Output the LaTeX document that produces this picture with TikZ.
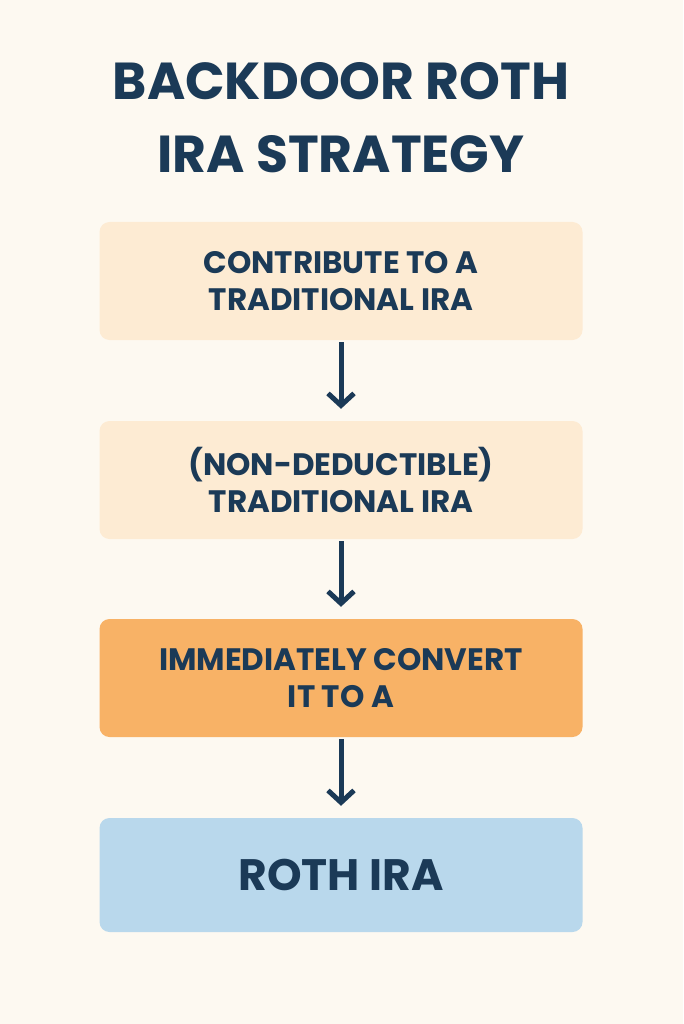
\documentclass[tikz,border=0pt]{standalone}
\usepackage{fontspec}
\setmainfont{Poppins}
\usetikzlibrary{arrows.meta}
\definecolor{bg}{HTML}{FDF9F1}
\definecolor{navy}{HTML}{1B3A57}
\definecolor{peach}{HTML}{FDEBD3}
\definecolor{orangeb}{HTML}{F8B266}
\definecolor{blueb}{HTML}{B9D8EC}
\begin{document}
\begin{tikzpicture}[x=1pt,y=1pt,
  box/.style={rounded corners=10pt,minimum width=483pt,minimum height=118pt,inner sep=0pt,font=\fontsize{31}{37}\selectfont\bfseries,text=navy,align=center},
  arr/.style={-{Straight Barb[length=12pt,width=26pt,line width=5pt]},line width=5pt,draw=navy}]
\fill[bg] (0,0) rectangle (683,-1024);
\node[font=\fontsize{52}{73}\selectfont\bfseries,text=navy,align=center] (title) at (341,-118) {BACKDOOR ROTH\\IRA STRATEGY};
\node[box,fill=peach] (b1) at (341,-281) {CONTRIBUTE TO A\\TRADITIONAL IRA};
\node[box,fill=peach] (b2) at (341,-480) {(NON-DEDUCTIBLE)\\TRADITIONAL IRA};
\node[box,fill=orangeb] (b3) at (341,-678) {IMMEDIATELY CONVERT\\IT TO A};
\node[box,fill=blueb,minimum height=114pt,font=\fontsize{44}{48}\selectfont\bfseries] (b4) at (341,-875) {ROTH IRA};
\draw[arr] ([yshift=-2pt]b1.south) -- ([yshift=12pt]b2.north);
\draw[arr] ([yshift=-2pt]b2.south) -- ([yshift=12pt]b3.north);
\draw[arr] ([yshift=-2pt]b3.south) -- ([yshift=12pt]b4.north);
\end{tikzpicture}
\end{document}
